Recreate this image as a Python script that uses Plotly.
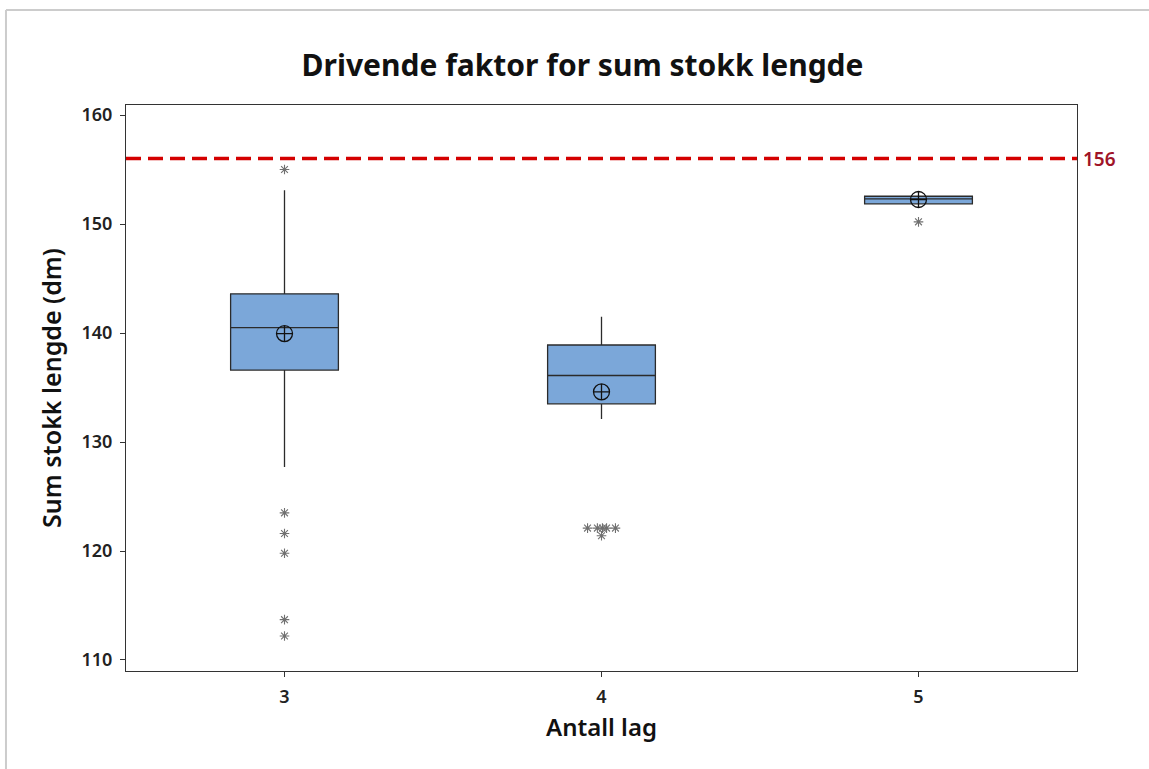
import plotly.graph_objects as go

# ---- data ----
groups = [3, 4, 5]
q1 = [136.6, 133.5, 151.85]
median = [140.5, 136.1, 152.3]
q3 = [143.6, 138.9, 152.55]
lower_whisker = [127.7, 132.1, 151.85]
upper_whisker = [153.1, 141.5, 152.55]
means = [139.95, 134.6, 152.25]

outlier_group = [3, 3, 3, 3, 3, 3, 4, 4, 4, 4, 4, 4, 5]
outlier_value = [155.0, 123.5, 121.6, 119.8, 113.7, 112.2,
                 122.1, 122.1, 122.1, 122.1, 122.1, 121.4, 150.2]
# horizontal jitter used to separate tied outliers (style, not data)
outlier_jitter = [0, 0, 0, 0, 0, 0, -0.044, -0.013, 0.003, 0.016, 0.044, 0.0, 0]

spec_limit = 156
y_ticks = [110, 120, 130, 140, 150, 160]

FONT = "Noto Sans"

fig = go.Figure()

fig.add_trace(go.Box(
    x=groups, q1=q1, median=median, q3=q3,
    lowerfence=lower_whisker, upperfence=upper_whisker,
    boxpoints=False, width=0.34,
    fillcolor="#7BA7D9",
    line=dict(color="#2b2b2b", width=1.3),
    whiskerwidth=0,
    showlegend=False, hoverinfo="skip",
))

fig.add_trace(go.Scatter(
    x=groups, y=means, mode="markers",
    marker=dict(symbol="circle-cross-open", size=16,
                color="#111111", line=dict(width=1.3)),
    showlegend=False, hoverinfo="skip",
))

fig.add_trace(go.Scatter(
    x=[g + j for g, j in zip(outlier_group, outlier_jitter)],
    y=outlier_value, mode="markers",
    marker=dict(symbol="asterisk-open", size=8,
                color="#707070", line=dict(width=1.1, color="#707070")),
    showlegend=False, hoverinfo="skip",
))

# reference line
fig.add_shape(type="line", xref="paper", yref="y", x0=0, x1=1,
              y0=spec_limit, y1=spec_limit,
              line=dict(color="#d40000", width=3.5, dash="15px,7px"))
fig.add_annotation(xref="paper", yref="y", x=1, y=spec_limit,
                   text=str(spec_limit), showarrow=False,
                   xanchor="left", yanchor="middle", xshift=4,
                   font=dict(family=FONT, size=19, color="#a01428", weight=600))

# outer light-grey frame (top and left edges)
fig.add_shape(type="line", xref="paper", yref="paper",
              x0=-0.1262, x1=1.1, y0=1.1678, y1=1.1678,
              line=dict(color="#cccccc", width=2))
fig.add_shape(type="line", xref="paper", yref="paper",
              x0=-0.1262, x1=-0.1262, y0=-0.2, y1=1.1678,
              line=dict(color="#cccccc", width=2))

fig.update_layout(
    width=1149, height=769,
    margin=dict(l=126, r=72, t=105, b=98),
    paper_bgcolor="white", plot_bgcolor="white",
    title=dict(text="Drivende faktor for sum stokk lengde",
               x=0.507, xanchor="center", y=0.915, yanchor="middle",
               font=dict(family=FONT, size=30, color="#111111", weight=700)),
    font=dict(family=FONT, color="#222222"),
    xaxis=dict(
        range=[2.5, 5.5], tickvals=groups, ticktext=[str(g) for g in groups],
        showgrid=False, zeroline=False,
        showline=True, mirror=True, linecolor="#333333", linewidth=1,
        ticks="outside", ticklen=5, tickcolor="#333333",
        ticklabelstandoff=4,
        tickfont=dict(family=FONT, size=18, color="#222222", weight=600),
        title=dict(text="Antall lag", standoff=12,
                   font=dict(family=FONT, size=24, color="#111111", weight=600)),
    ),
    yaxis=dict(
        range=[108.99, 160.92], tickvals=y_ticks,
        showgrid=False, zeroline=False,
        showline=True, mirror=True, linecolor="#333333", linewidth=1,
        ticks="outside", ticklen=5, tickcolor="#333333",
        ticklabelstandoff=4,
        tickfont=dict(family=FONT, size=18, color="#222222", weight=600),
        title=dict(text="Sum stokk lengde (dm)", standoff=12,
                   font=dict(family=FONT, size=25, color="#111111", weight=600)),
    ),
)

fig.write_html("out.html")
